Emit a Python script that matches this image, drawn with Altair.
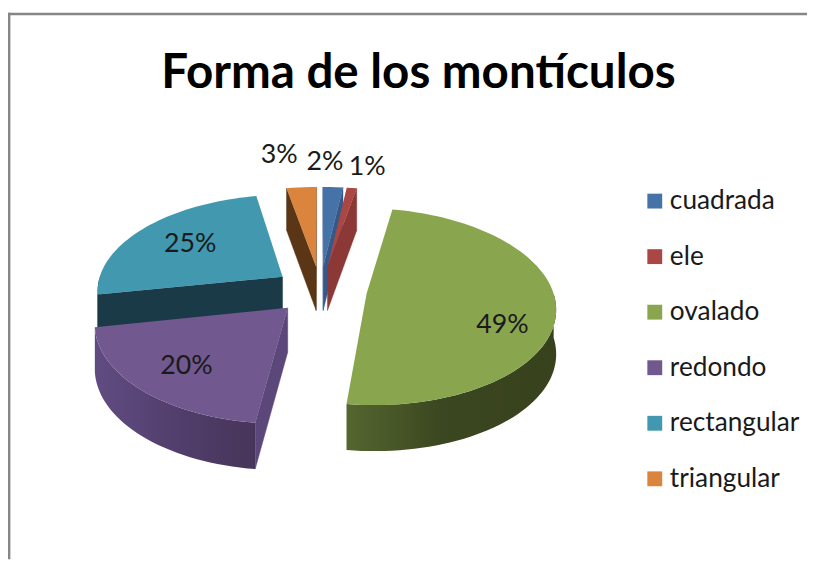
import math
import altair as alt

# --- chart values ---
title_text = "Forma de los montículos"
categories = ["cuadrada", "ele", "ovalado", "redondo", "rectangular", "triangular"]
values = [2, 1, 49, 20, 25, 3]
labels = ["2%", "1%", "49%", "20%", "25%", "3%"]

# --- styles ---
face_colors = ["#4572a7", "#aa4643", "#89a54e", "#71588f", "#4198af", "#db843d"]
cut_colors = ["#36598a", "#8c3836", "#4a5a29", "#5b477a", "#1b3a47", "#5a3516"]
arc_stops = {
    "ovalado": [(0, "#55662f"), (0.45, "#3b4720"), (1, "#37421c")],
    "redondo": [(0, "#614c82"), (0.6, "#4f3c68"), (1, "#47355a")],
    "rectangular": [(0, "#1b3a47"), (1, "#1b3a47")],
}
draw_order = ["rectangular", "triangular", "cuadrada", "ele", "ovalado", "redondo"]
label_radius = [1.36, 1.317, 0.755, 0.72, 0.656, 1.497]
label_angle = [0.6, 11.5, 114.5, 221.9, 304.8, 350.5]

# --- projection of the tilted disc onto the picture (chart pixels) ---
CX, CY = 315.5, 282.0
RX, RY = 188.0, 96.8
PERSP = 0.13
EXPLODE = 0.25
DEPTH = 44.5


def project(u, v, z=0.0):
    p = 1.0 / (1.0 - PERSP * v)
    return (CX + RX * u * p, CY + RY * v * p + z * DEPTH * p ** 0.3)


def disc(theta, r, mid):
    t, m = math.radians(theta), math.radians(mid)
    return (EXPLODE * math.sin(m) + r * math.sin(t), -(EXPLODE * math.cos(m) + r * math.cos(t)))


def arc_angles(a, b):
    n = max(2, int((b - a) / 2) + 1)
    return [a + (b - a) * i / (n - 1) for i in range(n)]


def feature(cat, pts):
    ring = [list(p) for p in pts] + [list(pts[0])]
    return {
        "type": "Feature",
        "properties": {"category": cat},
        "geometry": {"type": "Polygon", "coordinates": [ring]},
    }


starts, acc = {}, 0.0
for c, val in zip(categories, values):
    starts[c] = (acc * 3.6, (acc + val) * 3.6)
    acc += val

tops, cuts, arcs = {}, {}, {}
for c in categories:
    a, b = starts[c]
    m = (a + b) / 2
    apex = disc(0, 0, m)
    rim = [disc(t, 1, m) for t in arc_angles(a, b)]
    tops[c] = feature(c, [project(*apex)] + [project(*q) for q in rim])

    # cut faces, kept only when they turn towards the viewer
    A = project(*apex)
    inner = project(*disc(m, 0.5, m))
    cuts[c] = []
    for t in (a, b):
        q = disc(t, 1, m)
        O = project(*q)
        nx, ny = -(O[1] - A[1]), O[0] - A[0]
        side = (inner[0] - A[0]) * nx + (inner[1] - A[1]) * ny
        if ny * side < 0:
            cuts[c].append(feature(c, [project(*apex), project(*q), project(*q, 1), project(*apex, 1)]))

    # rim wall, only for the part of the rim facing the viewer
    lo, hi = max(a, 90.0), min(b, 270.0)
    if hi > lo:
        ang = arc_angles(lo, hi)
        upper = [project(*disc(t, 1, m)) for t in ang]
        lower = [project(*disc(t, 1, m), 1) for t in reversed(ang)]
        arcs[c] = feature(c, upper + lower)

proj = alt.Projection(type="identity", scale=1, translate=[0, 0])
layers = []

# frame
layers.append(alt.Chart(alt.Data(values=[{"a": 0}])).mark_rule(color="#868686", strokeWidth=2.4)
              .encode(x=alt.value(0), x2=alt.value(807), y=alt.value(3.3)))
layers.append(alt.Chart(alt.Data(values=[{"a": 0}])).mark_rule(color="#868686", strokeWidth=2.4)
              .encode(x=alt.value(1.2), y=alt.value(2), y2=alt.value(554)))

# walls, back to front
for c in draw_order:
    i = categories.index(c)
    if cuts[c]:
        layers.append(alt.Chart(alt.Data(values=cuts[c]))
                      .mark_geoshape(fill=cut_colors[i], stroke=cut_colors[i], strokeWidth=0.4)
                      .project(**proj.to_dict()))
    if c in arcs:
        grad = alt.LinearGradient(
            gradient="linear", x1=0, x2=1, y1=0, y2=0,
            stops=[alt.GradientStop(offset=o, color=col) for o, col in arc_stops[c]],
        )
        layers.append(alt.Chart(alt.Data(values=[arcs[c]]))
                      .mark_geoshape(fill=grad, strokeWidth=0)
                      .project(**proj.to_dict()))

# top faces, carrying the legend
layers.append(
    alt.Chart(alt.Data(values=[tops[c] for c in draw_order]))
    .mark_geoshape(strokeWidth=0)
    .encode(
        color=alt.Color(
            "properties.category:N",
            scale=alt.Scale(domain=categories, range=face_colors),
            legend=alt.Legend(
                title=None, orient="none", legendX=640, legendY=179,
                symbolType="square", symbolSize=225, symbolStrokeWidth=0, symbolOpacity=1,
                labelFont="Lato", labelFontSize=26.5, labelColor="#1a1a1a", labelOffset=2,
                rowPadding=29.1, labelLimit=200,
            ),
        )
    )
    .project(**proj.to_dict())
)

# percentage labels
rows = []
for c, lab, r, t, val in zip(categories, labels, label_radius, label_angle, values):
    a, b = starts[c]
    x, y = project(*disc(t, r, (a + b) / 2))
    rows.append({"lab": lab, "px": x, "py": y})
layers.append(
    alt.Chart(alt.Data(values=rows))
    .mark_text(font="Lato", fontSize=27, color="#1a1a1a", align="center", baseline="middle")
    .encode(
        x=alt.X("px:Q", scale=None, axis=None),
        y=alt.Y("py:Q", scale=None, axis=None),
        text="lab:N",
    )
)

chart = (
    alt.layer(*layers)
    .properties(
        width=807,
        height=554,
        padding=0,
        autosize=alt.AutoSizeParams(type="none"),
        title=alt.TitleParams(
            text=title_text, font="Lato", fontSize=48, fontWeight="bold", color="#000000",
            anchor="middle", offset=0, dx=11, dy=88,
        ),
    )
    .configure_view(stroke=None)
)
chart.save("out.html", embed_options={"renderer": "svg", "actions": False})
